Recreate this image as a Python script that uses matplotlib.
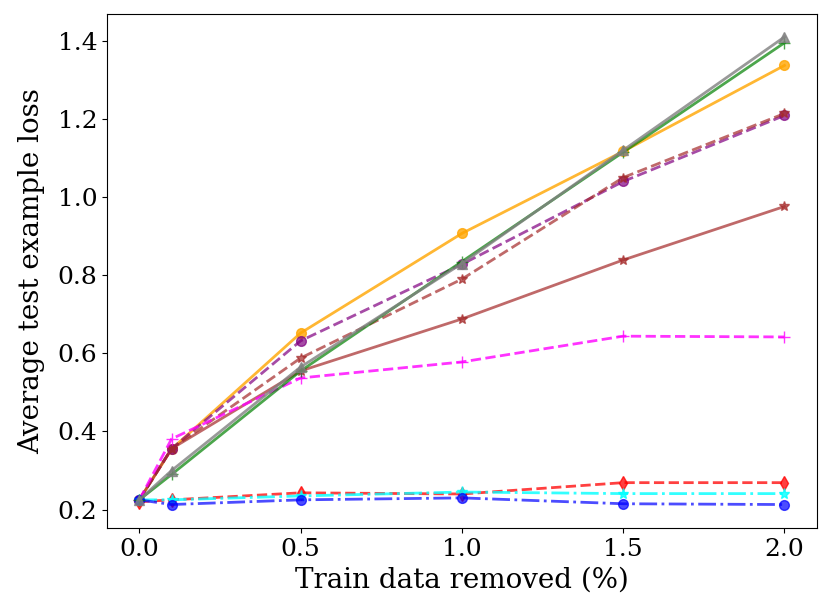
import matplotlib
matplotlib.use("Agg")
import matplotlib.pyplot as plt

plt.rcParams["font.family"] = "DejaVu Serif"

# Fraction of train data removed (%)
removed = [0.0, 0.1, 0.5, 1.0, 1.5, 2.0]

# Average test example loss per method
orange_o = [0.225, 0.355, 0.652, 0.907, 1.117, 1.337]
green_plus = [0.225, 0.290, 0.555, 0.835, 1.115, 1.395]
gray_tri = [0.225, 0.300, 0.565, 0.830, 1.120, 1.410]
brown_star = [0.225, 0.356, 0.555, 0.688, 0.839, 0.976]
purple_o_dash = [0.225, 0.356, 0.632, 0.828, 1.040, 1.209]
brown_star_dash = [0.225, 0.356, 0.588, 0.790, 1.050, 1.214]
magenta_plus_dash = [0.225, 0.381, 0.537, 0.578, 0.644, 0.642]
red_d_dash = [0.220, 0.225, 0.243, 0.240, 0.269, 0.269]
cyan_star_dd = [0.225, 0.225, 0.235, 0.245, 0.241, 0.241]
blue_o_dd = [0.225, 0.213, 0.225, 0.230, 0.215, 0.213]

fig, ax = plt.subplots(figsize=(8.3, 6.16), dpi=100)

ax.plot(removed, orange_o, "-o", color="orange", alpha=0.8, lw=2, ms=7)
ax.plot(removed, brown_star, "-*", color="brown", alpha=0.7, lw=2, ms=7)
ax.plot(removed, purple_o_dash, "--o", color="purple", alpha=0.7, lw=2, ms=7)
ax.plot(removed, brown_star_dash, "--*", color="brown", alpha=0.7, lw=2, ms=7)
ax.plot(removed, magenta_plus_dash, "--+", color="magenta", alpha=0.8, lw=2, ms=9)
ax.plot(removed, red_d_dash, "--d", color="red", alpha=0.75, lw=2, ms=7)
ax.plot(removed, cyan_star_dd, "-.*", color="cyan", alpha=0.8, lw=2, ms=8)
ax.plot(removed, blue_o_dd, "-.o", color="blue", alpha=0.7, lw=2, ms=7)
ax.plot(removed, green_plus, "-+", color="green", alpha=0.7, lw=2, ms=9)
ax.plot(removed, gray_tri, "-^", color="gray", alpha=0.8, lw=2, ms=7)

ax.set_xlabel("Train data removed (%)", fontsize=20)
ax.set_ylabel("Average test example loss", fontsize=20, labelpad=9)
ax.tick_params(labelsize=18)
ax.set_xticks([0.0, 0.5, 1.0, 1.5, 2.0])
ax.set_yticks([0.2, 0.4, 0.6, 0.8, 1.0, 1.2, 1.4])

fig.subplots_adjust(left=0.129, right=0.984, top=0.978, bottom=0.143)
fig.savefig("out.png")
